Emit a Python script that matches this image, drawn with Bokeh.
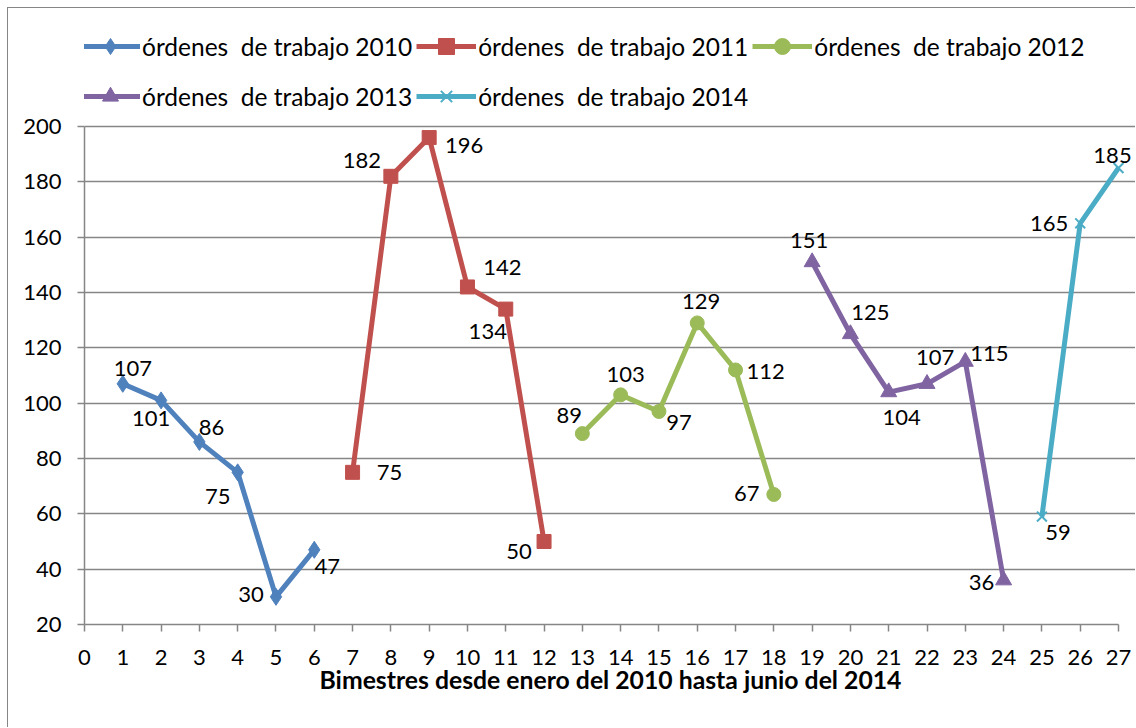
from bokeh.plotting import figure
from bokeh.models import Legend, LegendItem, FixedTicker, Range1d, ColumnDataSource
from bokeh.core.properties import value
from bokeh.embed import file_html
from bokeh.resources import INLINE

FONT = "Lato"

# ---- data ----
x_2010 = [1, 2, 3, 4, 5, 6]
y_2010 = [107, 101, 86, 75, 30, 47]
x_2011 = [7, 8, 9, 10, 11, 12]
y_2011 = [75, 182, 196, 142, 134, 50]
x_2012 = [13, 14, 15, 16, 17, 18]
y_2012 = [89, 103, 97, 129, 112, 67]
x_2013 = [19, 20, 21, 22, 23, 24]
y_2013 = [151, 125, 104, 107, 115, 36]
x_2014 = [25, 26, 27]
y_2014 = [59, 165, 185]

series_names = [
    "órdenes  de trabajo 2010",
    "órdenes  de trabajo 2011",
    "órdenes  de trabajo 2012",
    "órdenes  de trabajo 2013",
    "órdenes  de trabajo 2014",
]
x_ticks = list(range(0, 28))
y_ticks = list(range(20, 201, 20))
x_title = "Bimestres desde enero del 2010 hasta junio del 2014"

# ---- style ----
colors = ["#4F81BD", "#C0504D", "#9BBB59", "#8064A2", "#4BACC6"]
markers = ["diamond", "square", "circle", "triangle", "x"]
marker_sizes = [17, 14, 14, 16, 14]
# data-label offsets in screen px (dx, dy; dy positive = down)
label_offsets = [
    [(10, -15), (-10, 18), (12, -14), (-20, 24), (-25, -2), (13, 17)],
    [(37, 0), (-29, -16), (35, 8), (35, -19), (-18, 22), (-25, 10)],
    [(-13, -18), (5, -20), (20, 11), (4, -21), (30, 2), (-27, -1)],
    [(-3, -22), (20, -21), (13, 25), (8, -26), (24, -8), (-22, 2)],
    [(16, 16), (-31, 0), (-6, -12)],
]
GRID = "#868686"

xs = [x_2010, x_2011, x_2012, x_2013, x_2014]
ys = [y_2010, y_2011, y_2012, y_2013, y_2014]

# frame spans the whole upper/right area so the legend (inside the frame) is not clipped;
# axis/grid bounds keep the visible axes at 0..27 and 20..200
X0, X1 = 0, 27
Y0, Y1 = 20, 200
p = figure(width=1128, height=720, output_backend="svg", toolbar_location=None,
           x_range=Range1d(X0, X1 + 18 / 38.296), y_range=Range1d(Y0, Y1 + 118 / 2.7667),
           min_border_left=76, min_border_right=0, min_border_top=0, min_border_bottom=104)
p.styles = {"border-left": "1px solid #868686", "border-top": "1px solid #868686",
            "margin-left": "7px", "margin-top": "7px"}
p.outline_line_color = None
p.background_fill_color = "white"
p.border_fill_color = "white"

p.xgrid.grid_line_color = None
p.ygrid.grid_line_color = GRID
p.ygrid.grid_line_width = 1.5
p.ygrid.bounds = (X0, X1)

p.xaxis.ticker = FixedTicker(ticks=x_ticks)
p.yaxis.ticker = FixedTicker(ticks=y_ticks)
p.xaxis.bounds = (X0, X1)
p.yaxis.bounds = (Y0, Y1)
for ax in (p.xaxis, p.yaxis):
    ax.axis_line_color = GRID
    ax.axis_line_width = 1.5
    ax.major_tick_line_color = GRID
    ax.major_tick_line_width = 1.5
    ax.major_tick_in = 0
    ax.major_tick_out = 7
    ax.minor_tick_line_color = None
    ax.major_label_text_font = FONT
    ax.major_label_text_font_size = "22px"
    ax.major_label_text_color = "black"
p.xaxis.major_label_standoff = 18
p.yaxis.major_label_standoff = 16
p.xaxis.axis_label = x_title
p.xaxis.axis_label_text_font = FONT
p.xaxis.axis_label_text_font_size = "24.75px"
p.xaxis.axis_label_text_font_style = "bold"
p.xaxis.axis_label_text_color = "black"
p.xaxis.axis_label_standoff = -3

items = []
for i in range(5):
    src = ColumnDataSource(dict(
        x=xs[i], y=ys[i],
        t=[str(v) for v in ys[i]],
        dx=[o[0] for o in label_offsets[i]],
        dy=[o[1] for o in label_offsets[i]],
    ))
    ln = p.line("x", "y", source=src, line_color=colors[i], line_width=5)
    if markers[i] == "x":
        mk = p.scatter("x", "y", source=src, marker="x", size=marker_sizes[i],
                       line_color=colors[i], line_width=2)
    else:
        mk = p.scatter("x", "y", source=src, marker=markers[i], size=marker_sizes[i],
                       fill_color=colors[i], line_color=colors[i])
    p.text("x", "y", text="t", source=src, x_offset="dx", y_offset="dy",
           text_font=value(FONT), text_font_size="22px", text_color="black",
           text_align="center", text_baseline="middle")
    items.append(LegendItem(label=series_names[i], renderers=[ln, mk]))

def make_legend(its, loc):
    lg = Legend(items=its, orientation="horizontal", location=loc)
    lg.label_text_font = FONT
    lg.label_text_font_size = "24.5px"
    lg.label_text_color = "black"
    lg.glyph_width = 60
    lg.glyph_height = 40
    lg.label_height = 40
    lg.label_standoff = 2
    lg.spacing = 4
    lg.padding = 0
    lg.margin = 0
    lg.border_line_color = None
    lg.background_fill_alpha = 0
    return lg

p.add_layout(make_legend(items[:3], (-4, 558)))
p.add_layout(make_legend(items[3:], (-4, 508)))

open("out.html", "w").write(file_html(p, INLINE))
